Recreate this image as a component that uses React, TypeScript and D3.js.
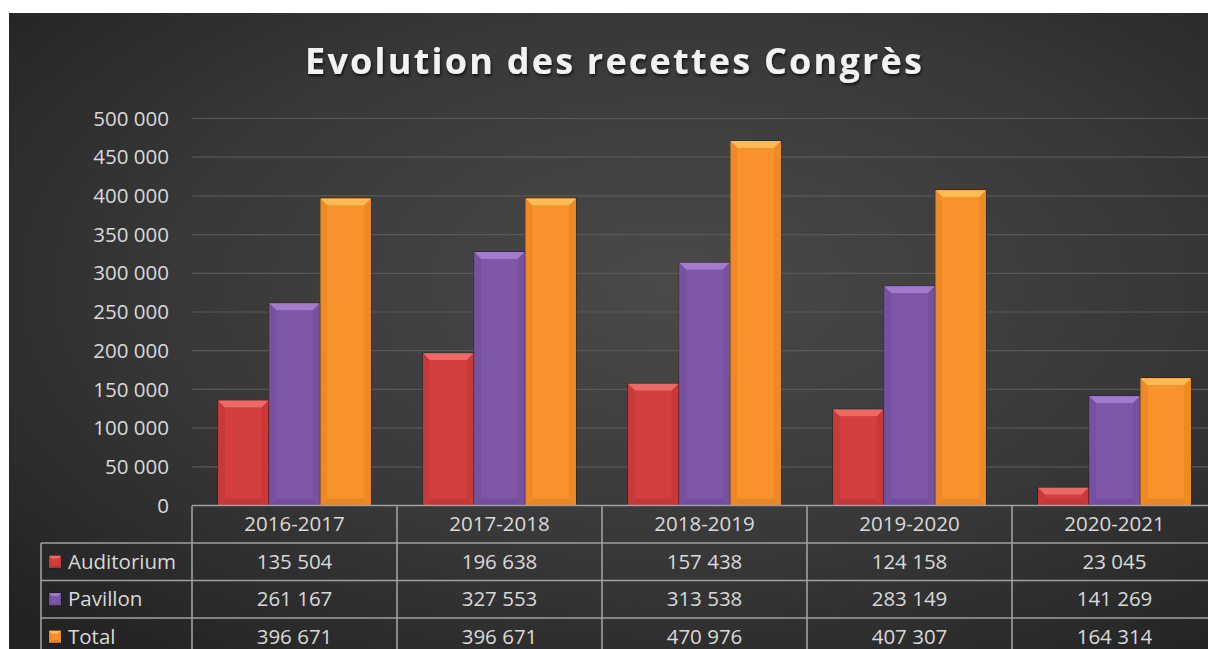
import React from "react";
import * as d3 from "d3";

const categories = ["2016-2017", "2017-2018", "2018-2019", "2019-2020", "2020-2021"];
const seriesNames = ["Auditorium", "Pavillon", "Total"];
const auditorium = [135504, 196638, 157438, 124158, 23045];
const pavillon = [261167, 327553, 313538, 283149, 141269];
const total = [396671, 396671, 470976, 407307, 164314];
const yTicks = [0, 50000, 100000, 150000, 200000, 250000, 300000, 350000, 400000, 450000, 500000];
const title = "Evolution des recettes Congrès";

const seriesValues = [auditorium, pavillon, total];
const colors = [
  { base: "#d33f3f", light: "#ec6a66", dark: "#a32c2c", side: "#c83a3a" },
  { base: "#7e57a9", light: "#a07ccb", dark: "#5e3f83", side: "#7651a0" },
  { base: "#f7922c", light: "#ffbb55", dark: "#c96f17", side: "#ee8a25" },
];

const W = 1208;
const H = 649;
const plotLeft = 192;
const plotRight = 1217;
const yTop = 118.5;
const yBottom = 505.5;
const rowH = 37.5;
const legendLeft = 41;
const FONT = "'Open Sans', 'Noto Sans', sans-serif";
const TXT = "#d9d9d9";

const fmt = (v: number) => d3.format(",")(v).replace(/,/g, " ");

function Bar({ x, y, w, h, c, b0 = 7 }: { x: number; y: number; w: number; h: number; c: typeof colors[0]; b0?: number }) {
  const b = Math.min(b0, h / 2, w / 2);
  const x2 = x + w;
  const y2 = y + h;
  const pts = (a: number[][]) => a.map((p) => p.join(",")).join(" ");
  return (
    <g>
      <rect x={x - 0.7} y={y - 0.7} width={w + 1.4} height={h + 1.4} fill="#151515" opacity={0.6} />
      <rect x={x} y={y} width={w} height={h} fill={c.base} />
      <polygon points={pts([[x, y2], [x2, y2], [x2 - b, y2 - b], [x + b, y2 - b]])} fill={c.dark} opacity={0.35} />
      <polygon points={pts([[x, y], [x + b, y + b], [x + b, y2 - b], [x, y2]])} fill={c.side} />
      <polygon points={pts([[x2, y], [x2 - b, y + b], [x2 - b, y2 - b], [x2, y2]])} fill={c.side} />
      <polygon points={pts([[x, y], [x2, y], [x2 - b, y + b], [x + b, y + b]])} fill={c.light} />
      <rect x={x + b} y={y + b} width={Math.max(0, w - 2 * b)} height={Math.max(0, h - 2 * b)} fill={c.base} />
    </g>
  );
}

export default function App() {
  const y = d3.scaleLinear().domain([0, 500000]).range([yBottom, yTop]);
  const x = d3.scaleBand<string>().domain(categories).range([plotLeft, plotRight]).padding(0);
  const xi = d3.scaleBand<string>().domain(seriesNames).range([0, x.bandwidth()]).paddingInner(0).paddingOuter(0.5);

  const rows = seriesNames.map((s, i) => ({ name: s, values: seriesValues[i], c: colors[i] }));
  const tableLine = "#a0a0a0";

  return (
    <svg
      width={W}
      height={H}
      style={{ position: "absolute", left: 0, top: 0, display: "block" }}
      fontFamily={FONT}
    >
      <defs>
        <radialGradient id="bg" cx="0.55" cy="0.42" r="0.75" fx="0.55" fy="0.42">
          <stop offset="0" stopColor="#4a4a4a" />
          <stop offset="0.55" stopColor="#383838" />
          <stop offset="1" stopColor="#222222" />
        </radialGradient>
        <filter id="ts" x="-10%" y="-30%" width="120%" height="160%">
          <feDropShadow dx="1" dy="2" stdDeviation="1.6" floodColor="#000" floodOpacity="0.7" />
        </filter>
      </defs>
      <rect x={0} y={0} width={W} height={H} fill="#ffffff" />
      <rect x={9} y={13} width={W} height={H} fill="url(#bg)" />

      <text
        x={305}
        y={74}
        fontSize={36}
        fontWeight="bold"
        fill="#f2f2f2"
        textLength={617}
        lengthAdjust="spacing"
        filter="url(#ts)"
      >
        {title}
      </text>

      {yTicks.map((t) => (
        <g key={t}>
          {t > 0 && (
            <line x1={plotLeft} x2={plotRight} y1={y(t)} y2={y(t)} stroke="#595959" strokeWidth={1.2} />
          )}
          <text x={169} y={y(t)} dy="0.35em" textAnchor="end" fontSize={20.5} fill={TXT}>
            {fmt(t)}
          </text>
        </g>
      ))}

      {rows.map((r) =>
        categories.map((cat, j) => {
          const bx = (x(cat) ?? 0) + (xi(r.name) ?? 0);
          const by = y(r.values[j]);
          return (
            <Bar key={r.name + cat} x={bx + 0.5} y={by} w={xi.bandwidth() - 1} h={yBottom - by} c={r.c} />
          );
        })
      )}

      {/* data table */}
      <g stroke={tableLine} strokeWidth={1.6} fill="none">
        <line x1={plotLeft} x2={plotRight} y1={yBottom} y2={yBottom} />
        {[1, 2, 3].map((k) => (
          <line key={k} x1={legendLeft} x2={plotRight} y1={yBottom + k * rowH} y2={yBottom + k * rowH} />
        ))}
        <line x1={legendLeft} x2={legendLeft} y1={yBottom + rowH} y2={H} />
        {categories.map((cat) => (
          <line key={cat} x1={x(cat)} x2={x(cat)} y1={yBottom} y2={H} />
        ))}
      </g>
      {categories.map((cat) => (
        <text
          key={cat}
          x={(x(cat) ?? 0) + x.bandwidth() / 2}
          y={yBottom + rowH / 2}
          dy="0.35em"
          textAnchor="middle"
          fontSize={20.5}
          fill={TXT}
        >
          {cat}
        </text>
      ))}
      {rows.map((r, i) => {
        const cy = yBottom + (i + 1.5) * rowH;
        return (
          <g key={r.name}>
            <Bar x={49} y={cy - 6} w={12} h={12} c={r.c} b0={3} />
            <text x={68} y={cy} dy="0.35em" fontSize={20.5} fill={TXT}>
              {r.name}
            </text>
            {categories.map((cat, j) => (
              <text
                key={cat}
                x={(x(cat) ?? 0) + x.bandwidth() / 2}
                y={cy}
                dy="0.35em"
                textAnchor="middle"
                fontSize={20.5}
                fill={TXT}
              >
                {fmt(r.values[j])}
              </text>
            ))}
          </g>
        );
      })}
    </svg>
  );
}
